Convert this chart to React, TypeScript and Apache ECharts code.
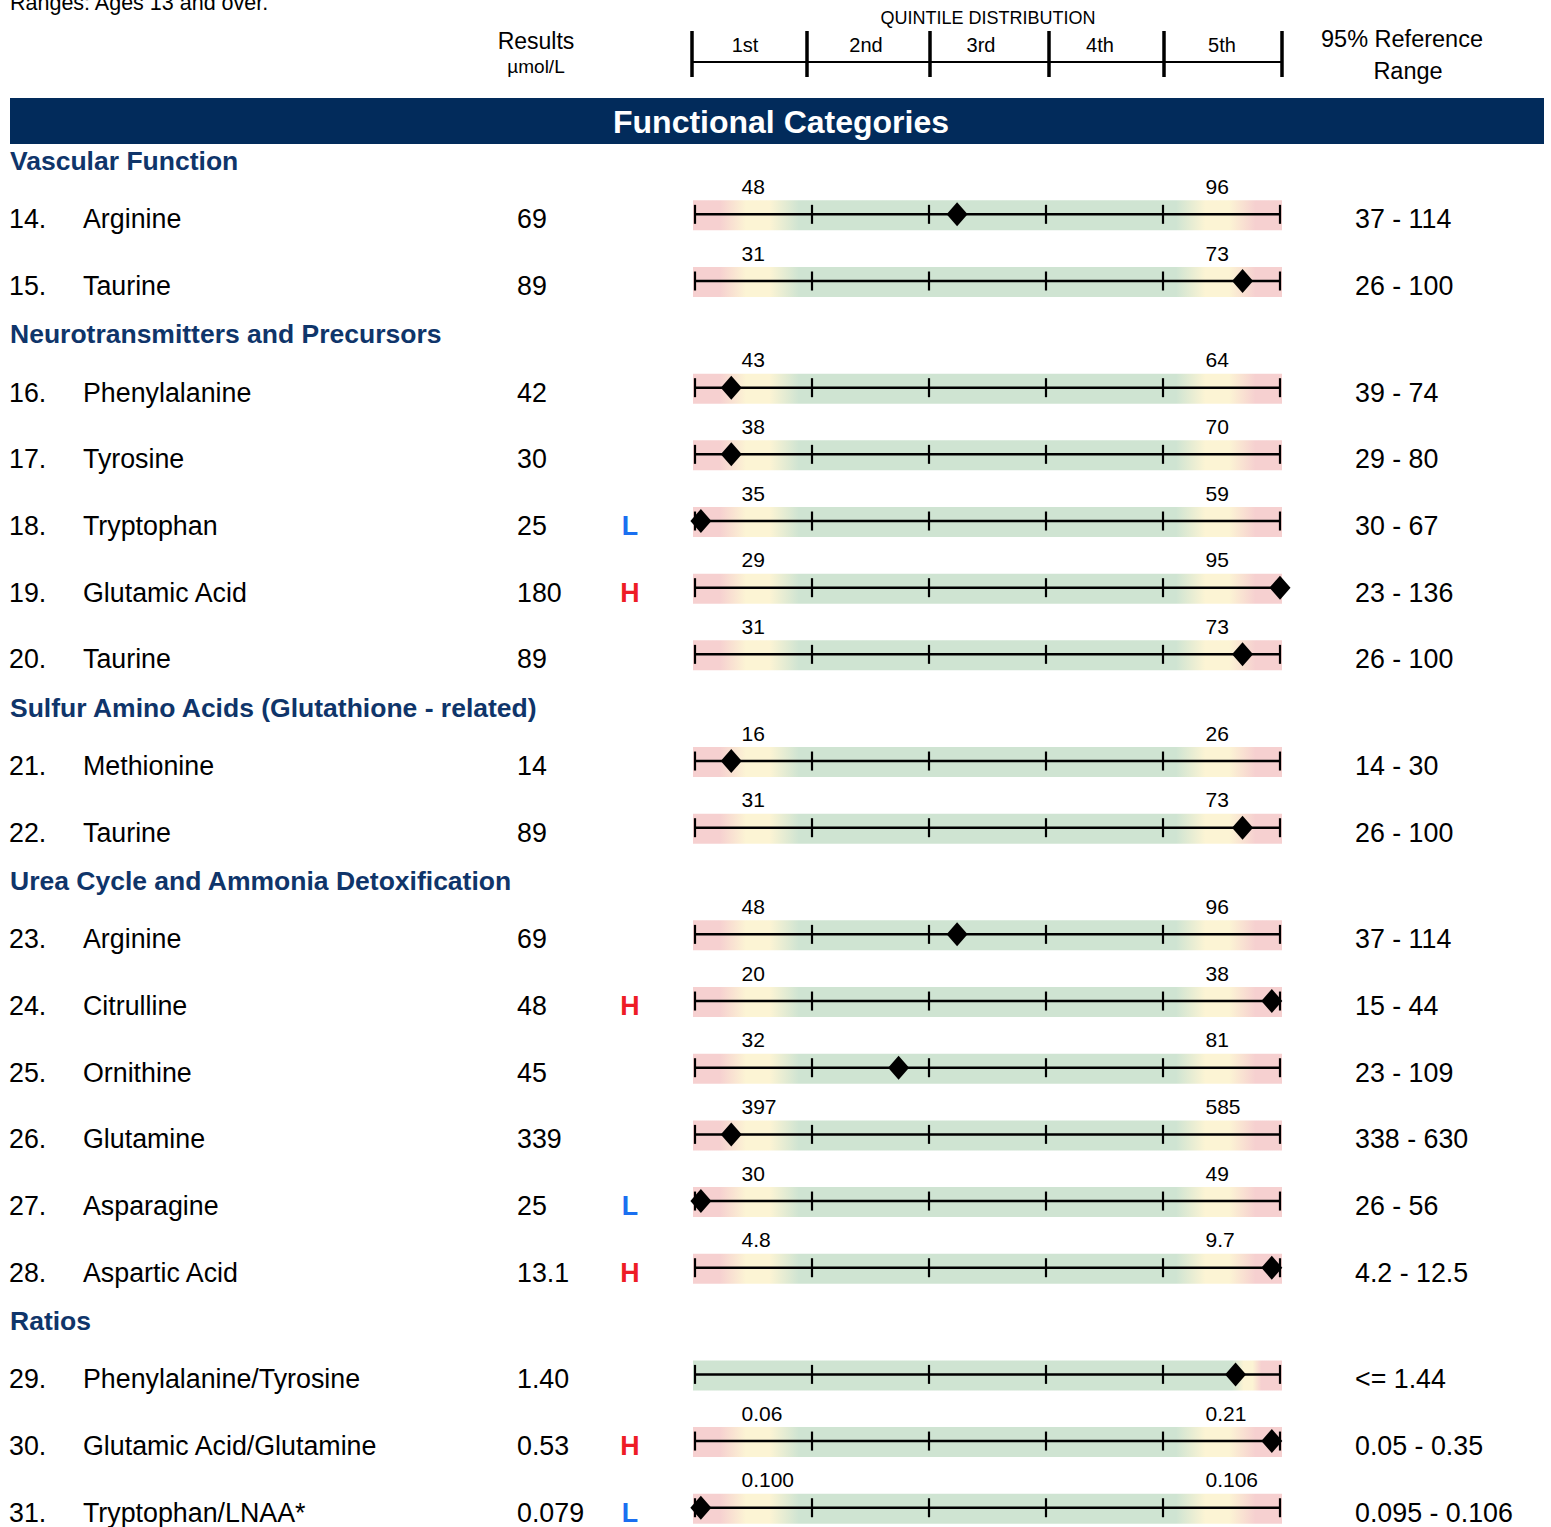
import React, { useEffect, useRef } from "react";
import * as echarts from "echarts";

// ---------------- DATA ----------------
const sectionTitles = [
  "Vascular Function",
  "Neurotransmitters and Precursors",
  "Sulfur Amino Acids (Glutathione - related)",
  "Urea Cycle and Ammonia Detoxification",
  "Ratios",
];
const rowSection = [0, 0, 1, 1, 1, 1, 1, 2, 2, 3, 3, 3, 3, 3, 3, 4, 4, 4];
const rowNumbers = ["14.", "15.", "16.", "17.", "18.", "19.", "20.", "21.", "22.", "23.", "24.", "25.", "26.", "27.", "28.", "29.", "30.", "31."];
const analytes = [
  "Arginine", "Taurine", "Phenylalanine", "Tyrosine", "Tryptophan", "Glutamic Acid", "Taurine",
  "Methionine", "Taurine", "Arginine", "Citrulline", "Ornithine", "Glutamine", "Asparagine",
  "Aspartic Acid", "Phenylalanine/Tyrosine", "Glutamic Acid/Glutamine", "Tryptophan/LNAA*",
];
const results = ["69", "89", "42", "30", "25", "180", "89", "14", "89", "69", "48", "45", "339", "25", "13.1", "1.40", "0.53", "0.079"];
const flags = ["", "", "", "", "L", "H", "", "", "", "", "H", "", "", "L", "H", "", "H", "L"];
const lowQuintileLabels = ["48", "31", "43", "38", "35", "29", "31", "16", "31", "48", "20", "32", "397", "30", "4.8", "", "0.06", "0.100"];
const highQuintileLabels = ["96", "73", "64", "70", "59", "95", "73", "26", "73", "96", "38", "81", "585", "49", "9.7", "", "0.21", "0.106"];
const referenceRanges = [
  "37 - 114", "26 - 100", "39 - 74", "29 - 80", "30 - 67", "23 - 136", "26 - 100", "14 - 30", "26 - 100",
  "37 - 114", "15 - 44", "23 - 109", "338 - 630", "26 - 56", "4.2 - 12.5", "<= 1.44", "0.05 - 0.35", "0.095 - 0.106",
];
// position of the result on the quintile scale (0 = left end, 5 = right end)
const quintilePositions = [2.24, 4.68, 0.31, 0.31, 0.05, 5.0, 4.68, 0.31, 4.68, 2.24, 4.93, 1.74, 0.31, 0.05, 4.93, 4.62, 4.93, 0.05];
// "two": limits at both ends; "upper": upper limit only
const bandKinds = ["two", "two", "two", "two", "two", "two", "two", "two", "two", "two", "two", "two", "two", "two", "two", "upper", "two", "two"];
const quintileBounds = [0, 1, 2, 3, 4, 5];
const quintileHeaders = ["1st", "2nd", "3rd", "4th", "5th"];

// ---------------- LAYOUT / STYLE ----------------
const W = 1551;
const H = 1527;
const FONT = "'Liberation Sans', Arial, Helvetica, sans-serif";
const NAVY = "#022b5b";
const SECTION_COLOR = "#0f356a";
const RED = "#ee1c25";
const BLUE = "#1a6ff0";
const C_RED = "#f6d0d0";
const C_YEL = "#fcf4d4";
const C_GRN = "#cfe4d2";
const FIRST_Y = 161;
const UNIT_PX = 66.67;
const HEADER_STEP = 0.8;
const BAR_LEFT = 695;
const BAR_WIDTH = 585;
const COL_NUM = 9;
const COL_NAME = 83;
const COL_RESULT = 517;
const COL_FLAG = 630;
const COL_RANGE = 1355;
const ROW_FONT = 26.8;
const headerTickX = [692, 807, 930, 1049, 1164, 1282];
const headerLabelX = [745, 866, 981, 1100, 1222];

function computePositions() {
  let pos = 0;
  let prev = -1;
  let first = true;
  const headerPos: number[] = [];
  const rowPos: number[] = [];
  rowSection.forEach((s) => {
    if (s !== prev) {
      if (!first) pos += HEADER_STEP;
      headerPos[s] = pos;
      pos += HEADER_STEP;
      prev = s;
      first = false;
    } else {
      pos += 1;
    }
    rowPos.push(pos);
  });
  return { headerPos, rowPos };
}

function bandGradient(kind: string) {
  const stops =
    kind === "upper"
      ? [
          [0, C_GRN], [0.915, C_GRN], [0.935, C_YEL], [0.95, C_YEL], [0.965, C_RED], [1, C_RED],
        ]
      : [
          [0, C_RED], [0.045, C_RED], [0.09, C_YEL], [0.13, C_YEL], [0.18, C_GRN],
          [0.82, C_GRN], [0.87, C_YEL], [0.91, C_YEL], [0.955, C_RED], [1, C_RED],
        ];
  return new echarts.graphic.LinearGradient(0, 0, 1, 0, stops.map(([offset, color]) => ({ offset: offset as number, color: color as string })));
}

export default function App() {
  const ref = useRef<HTMLDivElement>(null);

  useEffect(() => {
    if (!ref.current) return;
    const chart = echarts.init(ref.current, undefined, { renderer: "svg" });
    const { headerPos, rowPos } = computePositions();
    const yMin = -FIRST_Y / UNIT_PX;
    const yMax = (H - FIRST_Y) / UNIT_PX;

    const textSeries = (name: string, x: number, texts: string[], opts: any, ys: number[] = rowPos) => ({
      name,
      type: "scatter",
      xAxisIndex: 1,
      yAxisIndex: 1,
      symbolSize: 1,
      itemStyle: { color: "transparent", opacity: 1 },
      silent: true,
      z: 5,
      data: texts.map((t, i) => ({ value: [x, ys[i]], label: { ...(opts.perItem ? opts.perItem(i) : {}) }, t })).filter((d) => d.t !== ""),
      label: {
        show: true,
        position: "inside",
        align: opts.align || "left",
        verticalAlign: "middle",
        fontFamily: FONT,
        fontSize: opts.fontSize || ROW_FONT,
        fontWeight: opts.fontWeight || "normal",
        color: opts.color || "#000",
        opacity: 1,
        textBorderWidth: 0,
        offset: opts.offset || [0, 5],
        formatter: (p: any) => p.data.t,
      },
    });

    const quintileLabelSeries = (name: string, q: number, texts: string[], dx: number) => ({
      name,
      type: "scatter",
      xAxisIndex: 0,
      yAxisIndex: 0,
      symbolSize: 1,
      itemStyle: { color: "transparent", opacity: 1 },
      silent: true,
      z: 5,
      data: texts.map((t, i) => ({ value: [q, rowPos[i]], t })).filter((d) => d.t !== ""),
      label: {
        show: true,
        position: "inside",
        align: "left",
        verticalAlign: "middle",
        fontFamily: FONT,
        fontSize: 21,
        color: "#000",
        opacity: 1,
        textBorderWidth: 0,
        offset: [dx, -28],
        formatter: (p: any) => p.data.t,
      },
    });

    const headerGraphics: any[] = [
      { type: "text", left: 10, top: -8, style: { text: "Ranges: Ages 13 and over.", font: `21.5px ${FONT}`, fill: "#000" } },
      { type: "text", x: 536, y: 41, style: { text: "Results", font: `23px ${FONT}`, fill: "#000", align: "center", verticalAlign: "middle" } },
      { type: "text", x: 536, y: 66, style: { text: "µmol/L", font: `19px ${FONT}`, fill: "#000", align: "center", verticalAlign: "middle" } },
      { type: "text", x: 988, y: 18, style: { text: "QUINTILE DISTRIBUTION", font: `18px ${FONT}`, fill: "#000", align: "center", verticalAlign: "middle" } },
      { type: "text", x: 1402, y: 39, style: { text: "95% Reference", font: `23.5px ${FONT}`, fill: "#000", align: "center", verticalAlign: "middle" } },
      { type: "text", x: 1408, y: 71, style: { text: "Range", font: `23.5px ${FONT}`, fill: "#000", align: "center", verticalAlign: "middle" } },
      { type: "line", shape: { x1: headerTickX[0], y1: 62, x2: headerTickX[5], y2: 62 }, style: { stroke: "#000", lineWidth: 2 } },
      ...headerTickX.map((x) => ({ type: "line", shape: { x1: x, y1: 31, x2: x, y2: 77 }, style: { stroke: "#000", lineWidth: 3.5 } })),
      ...quintileHeaders.map((t, i) => ({
        type: "text", x: headerLabelX[i], y: 45,
        style: { text: t, font: `20px ${FONT}`, fill: "#000", align: "center", verticalAlign: "middle" },
      })),
      { type: "rect", shape: { x: 10, y: 98, width: 1534, height: 46 }, style: { fill: NAVY } },
      { type: "text", x: 781, y: 122, style: { text: "Functional Categories", font: `bold 32px ${FONT}`, fill: "#fff", align: "center", verticalAlign: "middle" } },
    ];

    chart.setOption({
      animation: false,
      backgroundColor: "#fff",
      grid: [
        { left: BAR_LEFT, width: BAR_WIDTH, top: 0, height: H },
        { left: 0, width: W, top: 0, height: H },
      ],
      xAxis: [
        { type: "value", gridIndex: 0, min: quintileBounds[0], max: quintileBounds[5], show: false },
        { type: "value", gridIndex: 1, min: 0, max: W, show: false },
      ],
      yAxis: [
        { type: "value", gridIndex: 0, inverse: true, min: yMin, max: yMax, show: false },
        { type: "value", gridIndex: 1, inverse: true, min: yMin, max: yMax, show: false },
      ],
      graphic: headerGraphics,
      series: [
        {
          name: "bands",
          type: "custom",
          xAxisIndex: 0,
          yAxisIndex: 0,
          silent: true,
          z: 1,
          data: rowPos.map((p, i) => [i, p]),
          renderItem: (params: any, api: any) => {
            const idx = api.value(0);
            const y = api.value(1);
            const s = api.coord([quintileBounds[0], y]);
            const e = api.coord([quintileBounds[quintileBounds.length - 1], y]);
            const ticks = quintileBounds.map((q) => {
              const p = api.coord([q, y]);
              return { type: "line", shape: { x1: p[0], y1: p[1] - 9.5, x2: p[0], y2: p[1] + 9.5 }, style: { stroke: "#000", lineWidth: 2.2 } };
            });
            return {
              type: "group",
              children: [
                { type: "rect", shape: { x: s[0] - 2, y: s[1] - 14, width: e[0] - s[0] + 4, height: 30 }, style: { fill: bandGradient(bandKinds[idx]) } },
                { type: "line", shape: { x1: s[0], y1: s[1], x2: e[0], y2: e[1] }, style: { stroke: "#000", lineWidth: 2.5 } },
                ...ticks,
              ],
            };
          },
        },
        {
          name: "results",
          type: "scatter",
          xAxisIndex: 0,
          yAxisIndex: 0,
          symbol: "diamond",
          symbolSize: [21, 24],
          itemStyle: { color: "#000", opacity: 1 },
          silent: true,
          clip: false,
          z: 4,
          data: quintilePositions.map((q, i) => [q, rowPos[i]]),
        },
        quintileLabelSeries("low", (quintileBounds[0] + quintileBounds[1]) / 2, lowQuintileLabels, -12),
        quintileLabelSeries("high", (quintileBounds[4] + quintileBounds[5]) / 2, highQuintileLabels, -16),
        textSeries("sections", 10, sectionTitles, { fontSize: 26.5, fontWeight: "bold", color: SECTION_COLOR, offset: [0, 0] }, headerPos),
        textSeries("numbers", COL_NUM, rowNumbers, {}),
        textSeries("names", COL_NAME, analytes, {}),
        textSeries("values", COL_RESULT, results, {}),
        textSeries("flags", COL_FLAG, flags, {
          align: "center",
          fontWeight: "bold",
          perItem: (i: number) => ({ color: flags[i] === "H" ? RED : BLUE }),
        }),
        textSeries("ranges", COL_RANGE, referenceRanges, {}),
      ],
    });
    return () => chart.dispose();
  }, []);

  return <div ref={ref} style={{ position: "absolute", left: 0, top: 0, width: W, height: H, background: "#fff" }} />;
}
